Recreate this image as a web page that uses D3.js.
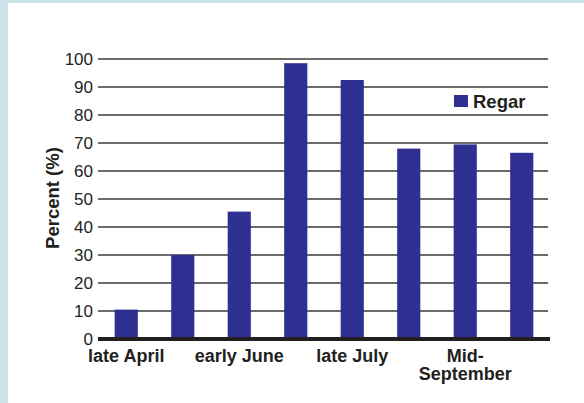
<!DOCTYPE html>
<html>
<head>
<meta charset="utf-8">
<script src="https://cdn.jsdelivr.net/npm/d3@7"></script>
<style>
body { margin: 0; background: #cbe3e6; }
svg { display: block; }
text { font-family: "Liberation Sans", Arial, sans-serif; }
</style>
</head>
<body>
<div id="chart"></div>
<script>
// bar data, one per sampling period
var periods = ["p1", "p2", "p3", "p4", "p5", "p6", "p7", "p8"]
var regar = [10.5, 30, 45.5, 98.5, 92.5, 68, 69.5, 66.5]
var period_labels = [["late April"], [], ["early June"], [], ["late July"], [], ["Mid-", "September"], []]
var y_ticks = [0, 10, 20, 30, 40, 50, 60, 70, 80, 90, 100]

var width = 584
var height = 403

var svg = d3.select("#chart")
			.append("svg")
			.attr("width", width)
			.attr("height", height)

// white panel inside the light blue frame
svg.append("rect")
	.attr("x", 8)
	.attr("y", 3)
	.attr("width", width - 8)
	.attr("height", height - 3)
	.attr("fill", "#ffffff")

var x = d3.scaleBand()
		.domain(periods)
		.range([98, 550])
		.paddingInner(0.59)
		.paddingOuter(0.295)

var y = d3.scaleLinear()
		.domain([0, 100])
		.range([339, 59])

// gridlines
svg.append("g")
	.selectAll("line")
	.data(y_ticks.filter(function(d) { return d > 0 }))
	.enter()
	.append("line")
	.attr("x1", 98)
	.attr("x2", 548)
	.attr("y1", function(d) { return y(d) })
	.attr("y2", function(d) { return y(d) })
	.attr("stroke", "#3a3a3a")
	.attr("stroke-width", 1.3)

// y axis labels
var y_axis = svg.append("g")
	.attr("transform", "translate(98,0)")
	.call(d3.axisLeft(y).tickValues(y_ticks).tickSize(0).tickPadding(5))
y_axis.select(".domain").remove()
y_axis.attr("font-size", null).attr("font-family", null)
y_axis.selectAll("text")
	.style("font-size", "17px")
	.attr("fill", "#231f20")
	.style("font-family", "Liberation Sans, Arial, sans-serif")

// bars
svg.append("g")
	.selectAll("rect")
	.data(regar)
	.enter()
	.append("rect")
	.attr("x", function(d, i) { return x(periods[i]) })
	.attr("y", function(d) { return y(d) })
	.attr("width", x.bandwidth())
	.attr("height", function(d) { return y(0) - y(d) })
	.attr("fill", "#2e3192")

// thick baseline
svg.append("line")
	.attr("x1", 98)
	.attr("x2", 550)
	.attr("y1", y(0))
	.attr("y2", y(0))
	.attr("stroke", "#231f20")
	.attr("stroke-width", 4)

// x labels (only every other period)
var xl = svg.append("g")
	.selectAll("text")
	.data(period_labels)
	.enter()
	.append("text")
	.attr("text-anchor", "middle")
	.style("font-size", "18px")
	.attr("font-weight", "bold")
	.attr("fill", "#231f20")
	.attr("transform", function(d, i) {
		return "translate(" + (x(periods[i]) + x.bandwidth() / 2) + "," + 361.5 + ")"
	})
xl.selectAll("tspan")
	.data(function(d) { return d })
	.enter()
	.append("tspan")
	.attr("x", 0)
	.attr("y", function(d, j) { return j * 18.5 })
	.text(function(d) { return d })

// y axis title
svg.append("text")
	.attr("transform", "translate(59,198) rotate(-90)")
	.attr("text-anchor", "middle")
	.style("font-size", "18.5px")
	.attr("font-weight", "bold")
	.attr("fill", "#231f20")
	.text("Percent (%)")

// legend
svg.append("rect")
	.attr("x", 454)
	.attr("y", 95)
	.attr("width", 14)
	.attr("height", 12)
	.attr("fill", "#2e3192")
svg.append("text")
	.attr("x", 473)
	.attr("y", 107.5)
	.style("font-size", "18.5px")
	.attr("font-weight", "bold")
	.attr("fill", "#231f20")
	.text("Regar")
</script>
</body>
</html>
